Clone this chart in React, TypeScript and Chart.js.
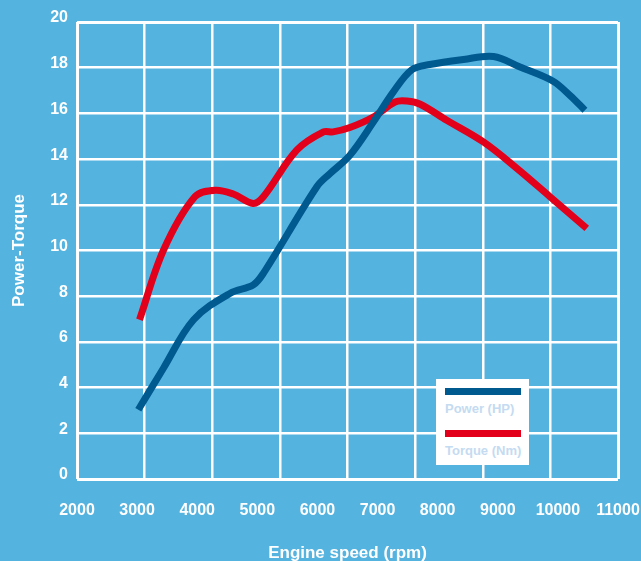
import React, { useEffect, useRef } from "react";
import { Chart, registerables } from "chart.js";

Chart.register(...registerables);

// ---- data ----
const powerRpm = [3020, 3440, 3940, 4550, 4930, 5100, 5990, 6210, 6540, 6930, 7260, 7570, 7870, 8430, 8930, 9370, 9920, 10200, 10450];
const powerHp = [3.03, 4.86, 6.97, 8.13, 8.49, 9.0, 12.79, 13.37, 14.17, 15.62, 16.93, 17.91, 18.14, 18.36, 18.49, 18.03, 17.41, 16.79, 16.14];

const torqueRpm = [3040, 3440, 3960, 4300, 4600, 4930, 5100, 5655, 6100, 6260, 6540, 6930, 7290, 7490, 7710, 8150, 8760, 9320, 9870, 10480];
const torqueNm = [6.97, 10.02, 12.35, 12.64, 12.47, 12.06, 12.35, 14.39, 15.19, 15.19, 15.38, 15.84, 16.5, 16.54, 16.4, 15.7, 14.75, 13.59, 12.35, 10.97];

const xTicks = [2000, 3000, 4000, 5000, 6000, 7000, 8000, 9000, 10000, 11000];
const yTicks = [0, 2, 4, 6, 8, 10, 12, 14, 16, 18, 20];
const gridColumns = [0, 1, 2, 3, 4, 5, 6, 7, 8];

const seriesLabels = ["Power (HP)", "Torque (Nm)"];
const seriesColors = ["#00598F", "#E2001A"];

const xTitle = "Engine speed (rpm)";
const yTitle = "Power-Torque";

const FONT = "'Liberation Sans', Arial, Helvetica, sans-serif";
const BG = "#55B3E0";

export default function App() {
  const canvasRef = useRef<HTMLCanvasElement | null>(null);

  useEffect(() => {
    document.body.style.margin = "0";
    const canvas = canvasRef.current;
    if (!canvas) return;

    const noSidePadding = (scale: any) => {
      scale.paddingLeft = 0;
      scale.paddingRight = 0;
      scale.paddingTop = 0;
      scale.paddingBottom = 0;
    };

    const chart = new Chart(canvas, {
      type: "line",
      data: {
        datasets: [
          {
            label: seriesLabels[0],
            data: powerRpm.map((x, i) => ({ x, y: powerHp[i] })),
            borderColor: seriesColors[0],
            borderWidth: 7,
            pointRadius: 0,
            tension: 0.35,
            borderCapStyle: "butt",
            borderJoinStyle: "round",
            fill: false,
          },
          {
            label: seriesLabels[1],
            data: torqueRpm.map((x, i) => ({ x, y: torqueNm[i] })),
            borderColor: seriesColors[1],
            borderWidth: 7,
            pointRadius: 0,
            tension: 0.35,
            borderCapStyle: "butt",
            borderJoinStyle: "round",
            fill: false,
          },
        ],
      },
      options: {
        animation: false,
        responsive: true,
        maintainAspectRatio: false,
        layout: { padding: { top: 22, right: 23, left: 0, bottom: 0 } },
        plugins: {
          legend: { display: false },
          tooltip: { enabled: false },
        },
        scales: {
          x: {
            type: "linear",
            position: "bottom",
            min: xTicks[0],
            max: xTicks[xTicks.length - 1],
            afterBuildTicks: (scale: any) => {
              scale.ticks = xTicks.map((v) => ({ value: v }));
            },
            afterFit: (scale: any) => {
              scale.height = 82;
              noSidePadding(scale);
            },
            grid: { display: false, drawTicks: false },
            border: { display: false },
            ticks: {
              color: "#FFFFFF",
              font: { family: FONT, size: 16, weight: "bold" },
              padding: 22,
              maxRotation: 0,
              autoSkip: false,
              callback: (v: any) => String(v),
            },
            title: {
              display: true,
              text: xTitle,
              color: "#FFFFFF",
              font: { family: FONT, size: 17, weight: "bold" },
              padding: { top: 0, bottom: -3 },
            },
          },
          xg: {
            type: "linear",
            position: "top",
            min: gridColumns[0],
            max: gridColumns[gridColumns.length - 1],
            afterBuildTicks: (scale: any) => {
              scale.ticks = gridColumns.map((v) => ({ value: v }));
            },
            afterFit: (scale: any) => {
              scale.height = 0;
              noSidePadding(scale);
            },
            grid: {
              color: "#FFFFFF",
              lineWidth: (ctx: any) =>
                ctx.tick && (ctx.tick.value === gridColumns[0] || ctx.tick.value === gridColumns[gridColumns.length - 1]) ? 3 : 2.5,
              drawTicks: false,
            },
            border: { display: false },
            ticks: { display: false },
          },
          y: {
            type: "linear",
            position: "left",
            min: yTicks[0],
            max: yTicks[yTicks.length - 1],
            afterBuildTicks: (scale: any) => {
              scale.ticks = yTicks.map((v) => ({ value: v }));
            },
            afterFit: (scale: any) => {
              scale.width = 77;
              noSidePadding(scale);
            },
            grid: {
              color: "#FFFFFF",
              lineWidth: (ctx: any) =>
                ctx.tick && (ctx.tick.value === yTicks[0] || ctx.tick.value === yTicks[yTicks.length - 1]) ? 3 : 2.5,
              drawTicks: false,
            },
            border: { display: false },
            ticks: {
              color: "#FFFFFF",
              font: { family: FONT, size: 16, weight: "bold" },
              padding: 9,
              labelOffset: -4,
              autoSkip: false,
              callback: (v: any) => String(v),
            },
            title: {
              display: true,
              text: yTitle,
              color: "#FFFFFF",
              font: { family: FONT, size: 17, weight: "bold" },
              padding: { top: 9, bottom: 0 },
            },
          },
        },
      },
    });

    return () => {
      chart.destroy();
    };
  }, []);

  return (
    <div style={{ position: "relative", width: 641, height: 561, background: BG, overflow: "hidden" }}>
      <canvas ref={canvasRef} />
      <div
        style={{
          position: "absolute",
          left: 436,
          top: 379,
          width: 93,
          height: 86,
          background: "#FFFFFF",
          boxSizing: "border-box",
        }}
      >
        {seriesLabels.map((label, i) => (
          <div key={label} style={{ position: "absolute", left: 9, top: 9 + i * 42 }}>
            <div style={{ width: 76, height: 7, background: seriesColors[i] }} />
            <div
              style={{
                marginTop: 6,
                fontFamily: FONT,
                fontWeight: "bold",
                fontSize: 13,
                lineHeight: "16px",
                color: "#C4DBF1",
                whiteSpace: "nowrap",
              }}
            >
              {label}
            </div>
          </div>
        ))}
      </div>
    </div>
  );
}
